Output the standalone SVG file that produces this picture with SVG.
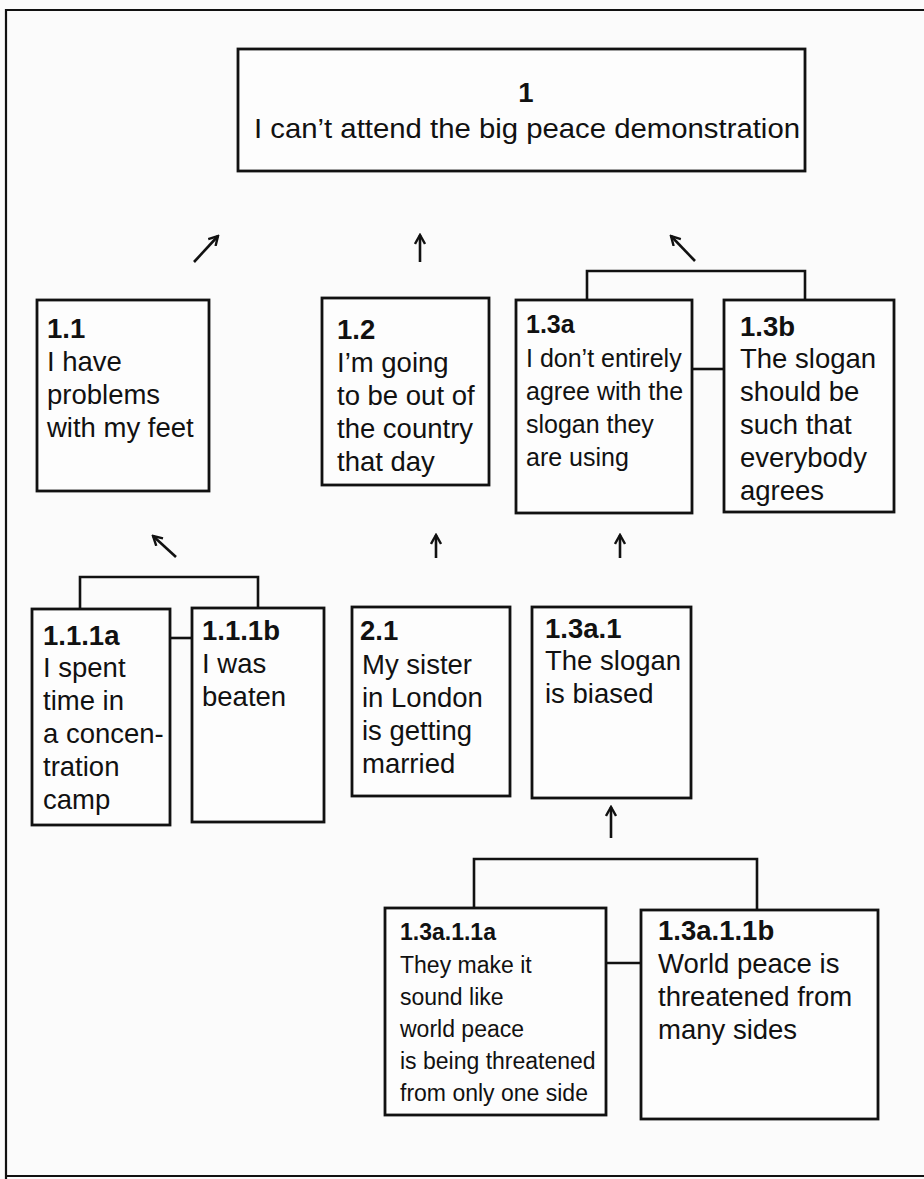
<svg xmlns="http://www.w3.org/2000/svg" width="924" height="1179" viewBox="0 0 924 1179">
<style>
.bg{fill:#fbfbfb}
.frame{fill:none;stroke:#111;stroke-width:2.2}
.box{fill:#fdfdfd;stroke:#111;stroke-width:2.8}
.ln{fill:none;stroke:#111;stroke-width:2.6}
.ar{fill:none;stroke:#111;stroke-width:2.6;marker-end:url(#ah)}
text{font-family:"Liberation Sans",Arial,Helvetica,sans-serif;fill:#111;font-size:27.5px}
.b{font-weight:bold}
.s25{font-size:25px}
.s23{font-size:23px}
</style>
<defs>
<marker id="ah" viewBox="0 0 12 12" refX="10" refY="6" markerWidth="12" markerHeight="12" markerUnits="userSpaceOnUse" orient="auto">
<path d="M1,1 L10,6 L1,11" fill="none" stroke="#111" stroke-width="2.4"/>
</marker>
</defs>
<rect class="bg" x="0" y="0" width="924" height="1179"/>
<path class="frame" d="M924,10 L6,10 L6,1179 M6,1176 L924,1176"/>

<g id="connectors">
<path class="ln" d="M587,300 V271 H805 V300"/>
<path class="ln" d="M692,369 H724"/>
<path class="ln" d="M80,609 V577 H258 V608"/>
<path class="ln" d="M170,638 H192"/>
<path class="ln" d="M474,908 V859 H757 V910"/>
<path class="ln" d="M606,963 H641"/>
<path class="ar" d="M194,262 L218,236"/>
<path class="ar" d="M420,262 L420,235"/>
<path class="ar" d="M695,261 L671,236"/>
<path class="ar" d="M176,557 L153,536"/>
<path class="ar" d="M436,558 L436,535"/>
<path class="ar" d="M620,558 L620,535"/>
<path class="ar" d="M611,838 L611,807"/>
</g>

<g id="n1">
<rect class="box" x="238" y="49" width="567" height="122"/>
<text class="b" x="526" y="102" text-anchor="middle" font-size="28">1</text>
<text x="527" y="138" text-anchor="middle" font-size="28.5" textLength="546" lengthAdjust="spacingAndGlyphs">I can’t attend the big peace demonstration</text>
</g>

<g id="n1_1">
<rect class="box" x="37" y="300" width="172" height="191"/>
<text x="47"><tspan class="b" y="338">1.1</tspan><tspan x="47" y="371">I have</tspan><tspan x="47" y="404">problems</tspan><tspan x="47" y="437">with my feet</tspan></text>
</g>

<g id="n1_2">
<rect class="box" x="322" y="298" width="167" height="187"/>
<text x="337"><tspan class="b" y="339">1.2</tspan><tspan x="337" y="372">I’m going</tspan><tspan x="337" y="405">to be out of</tspan><tspan x="337" y="438">the country</tspan><tspan x="337" y="471">that day</tspan></text>
</g>

<g id="n1_3a">
<rect class="box" x="516" y="300" width="176" height="213"/>
<text class="s25" x="526"><tspan class="b" y="333">1.3a</tspan><tspan x="526" y="367">I don’t entirely</tspan><tspan x="526" y="400">agree with the</tspan><tspan x="526" y="433">slogan they</tspan><tspan x="526" y="466">are using</tspan></text>
</g>

<g id="n1_3b">
<rect class="box" x="724" y="300" width="170" height="212"/>
<text x="740"><tspan class="b" y="336">1.3b</tspan><tspan x="740" y="368">The slogan</tspan><tspan x="740" y="401">should be</tspan><tspan x="740" y="434">such that</tspan><tspan x="740" y="467">everybody</tspan><tspan x="740" y="500">agrees</tspan></text>
</g>

<g id="n1_1_1a">
<rect class="box" x="32" y="609" width="138" height="216"/>
<text x="43"><tspan class="b" y="645">1.1.1a</tspan><tspan x="43" y="677">I spent</tspan><tspan x="43" y="710">time in</tspan><tspan x="43" y="743">a concen-</tspan><tspan x="43" y="776">tration</tspan><tspan x="43" y="809">camp</tspan></text>
</g>

<g id="n1_1_1b">
<rect class="box" x="192" y="608" width="132" height="214"/>
<text x="202"><tspan class="b" y="640">1.1.1b</tspan><tspan x="202" y="673">I was</tspan><tspan x="202" y="706">beaten</tspan></text>
</g>

<g id="n2_1">
<rect class="box" x="352" y="607" width="158" height="189"/>
<text x="360"><tspan class="b" y="640">2.1</tspan><tspan x="362" y="674">My sister</tspan><tspan x="362" y="707">in London</tspan><tspan x="362" y="740">is getting</tspan><tspan x="362" y="773">married</tspan></text>
</g>

<g id="n1_3a_1">
<rect class="box" x="532" y="607" width="159" height="191"/>
<text x="545"><tspan class="b" y="638">1.3a.1</tspan><tspan x="545" y="670">The slogan</tspan><tspan x="545" y="703">is biased</tspan></text>
</g>

<g id="n1_3a_1_1a">
<rect class="box" x="385" y="908" width="221" height="207"/>
<text class="s23" x="400"><tspan class="b" y="940">1.3a.1.1a</tspan><tspan x="400" y="973">They make it</tspan><tspan x="400" y="1005">sound like</tspan><tspan x="400" y="1037">world peace</tspan><tspan x="400" y="1069">is being threatened</tspan><tspan x="400" y="1101">from only one side</tspan></text>
</g>

<g id="n1_3a_1_1b">
<rect class="box" x="641" y="910" width="237" height="209"/>
<text x="658"><tspan class="b" y="940">1.3a.1.1b</tspan><tspan x="658" y="973">World peace is</tspan><tspan x="658" y="1006">threatened from</tspan><tspan x="658" y="1039">many sides</tspan></text>
</g>
</svg>
